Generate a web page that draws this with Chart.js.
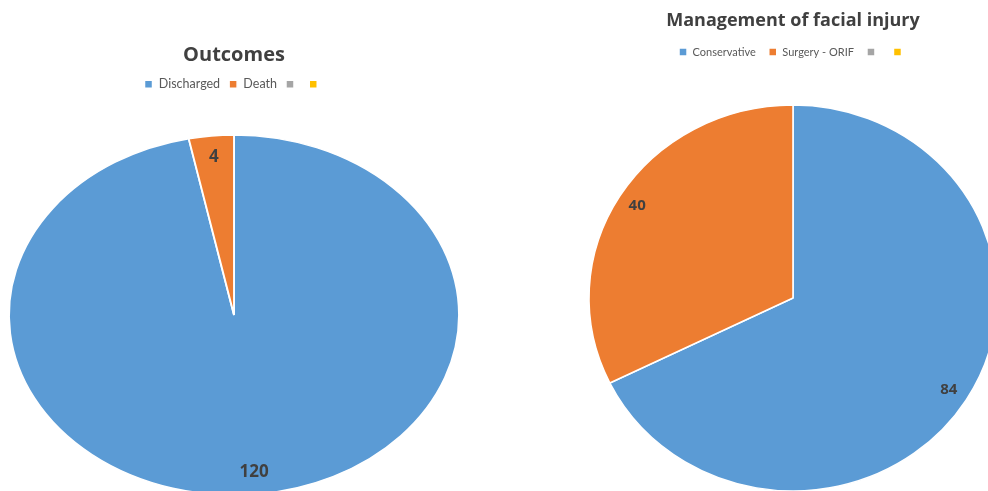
<!DOCTYPE html>
<html>
<head>
<meta charset="utf-8">
<script src="https://cdn.jsdelivr.net/npm/chart.js@4"></script>
<style>
  html, body { margin: 0; padding: 0; background: #fff; overflow: hidden; width: 988px; height: 491px; }
  canvas { position: absolute; top: 0; }
  #outcomes { left: 0; }
  #management { left: 578px; }
</style>
</head>
<body>
<canvas id="outcomes" width="468" height="600"></canvas>
<canvas id="management" width="430" height="600"></canvas>
<script>
const outcomeLabels = ['Discharged', 'Death', '', ''];
const outcomeValues = [120, 4, 0, 0];

const managementLabels = ['Conservative', 'Surgery - ORIF', '', ''];
const managementValues = [84, 40, 0, 0];

const sliceColors = ['#5B9BD5', '#ED7D31', '#A5A5A5', '#FFC000'];

// Excel stretched the pies into ellipses, so squash the arcs horizontally
// and put the value labels on after the transform is undone.
const ellipsePie = {
  id: 'ellipsePie',
  beforeDatasetsDraw(chart, args, opts) {
    const arc = chart.getDatasetMeta(0).data[0];
    const ctx = chart.ctx;
    ctx.save();
    ctx.translate(arc.x, arc.y);
    ctx.scale(opts.stretch, 1);
    ctx.translate(-arc.x, -arc.y);
  },
  afterDatasetsDraw(chart, args, opts) {
    const ctx = chart.ctx;
    ctx.restore();
    const meta = chart.getDatasetMeta(0);
    const values = chart.data.datasets[0].data;
    ctx.save();
    ctx.font = 'bold ' + opts.labelSize + 'px "Open Sans", sans-serif';
    ctx.fillStyle = '#404040';
    ctx.textAlign = 'center';
    ctx.textBaseline = 'middle';
    meta.data.forEach((arc, i) => {
      if (!values[i]) return;
      const mid = (arc.startAngle + arc.endAngle) / 2;
      const r = arc.outerRadius * opts.labelDistance;
      ctx.fillText(String(values[i]), arc.x + Math.cos(mid) * r * opts.stretch, arc.y + Math.sin(mid) * r);
    });
    ctx.restore();
  },
};

function makePie(id, labels, values, cfg) {
  const canvas = document.getElementById(id);
  const chart = new Chart(canvas.getContext('2d'), {
    type: 'pie',
    data: {
      labels,
      datasets: [
        {
          data: values,
          backgroundColor: sliceColors,
          borderColor: '#fff',
          borderWidth: 1.5,
          hoverOffset: 0,
          clip: false,
        },
      ],
    },
    options: {
      responsive: false,
      animation: false,
      devicePixelRatio: 1,
      events: [],
      radius: cfg.radius,
      layout: { padding: { left: 0, right: 0, top: 0, bottom: 0 } },
      plugins: {
        title: {
          display: true,
          text: cfg.title,
          color: '#404040',
          font: { family: '"Open Sans", sans-serif', size: cfg.titleSize, weight: 'bold' },
          padding: { top: cfg.titleTop, bottom: 2 },
        },
        legend: {
          position: 'top',
          labels: {
            boxWidth: 8,
            boxHeight: 8,
            padding: cfg.legendGap,
            color: '#595959',
            font: { family: 'Lato, sans-serif', size: cfg.legendSize },
          },
        },
        tooltip: { enabled: false },
        ellipsePie: {
          stretch: cfg.stretch,
          labelSize: cfg.labelSize,
          labelDistance: cfg.labelDistance,
        },
      },
    },
    plugins: [ellipsePie],
  });
  // move the pie centre to the wanted height by padding the bottom
  const top = chart.chartArea.top;
  chart.options.layout.padding.bottom = canvas.height - (2 * cfg.centerY - top);
  chart.update();
  return chart;
}

makePie('outcomes', outcomeLabels, outcomeValues, {
  title: 'Outcomes',
  titleSize: 20,
  titleTop: 43,
  legendSize: 12.5,
  legendGap: 9,
  radius: 180,
  centerY: 315,
  stretch: 1.25,
  labelSize: 17,
  labelDistance: 0.88,
});

makePie('management', managementLabels, managementValues, {
  title: 'Management of facial injury',
  titleSize: 18,
  titleTop: 10,
  legendSize: 11,
  legendGap: 13,
  radius: 193,
  centerY: 298,
  stretch: 1.057,
  labelSize: 15,
  labelDistance: 0.9,
});
</script>
</body>
</html>
